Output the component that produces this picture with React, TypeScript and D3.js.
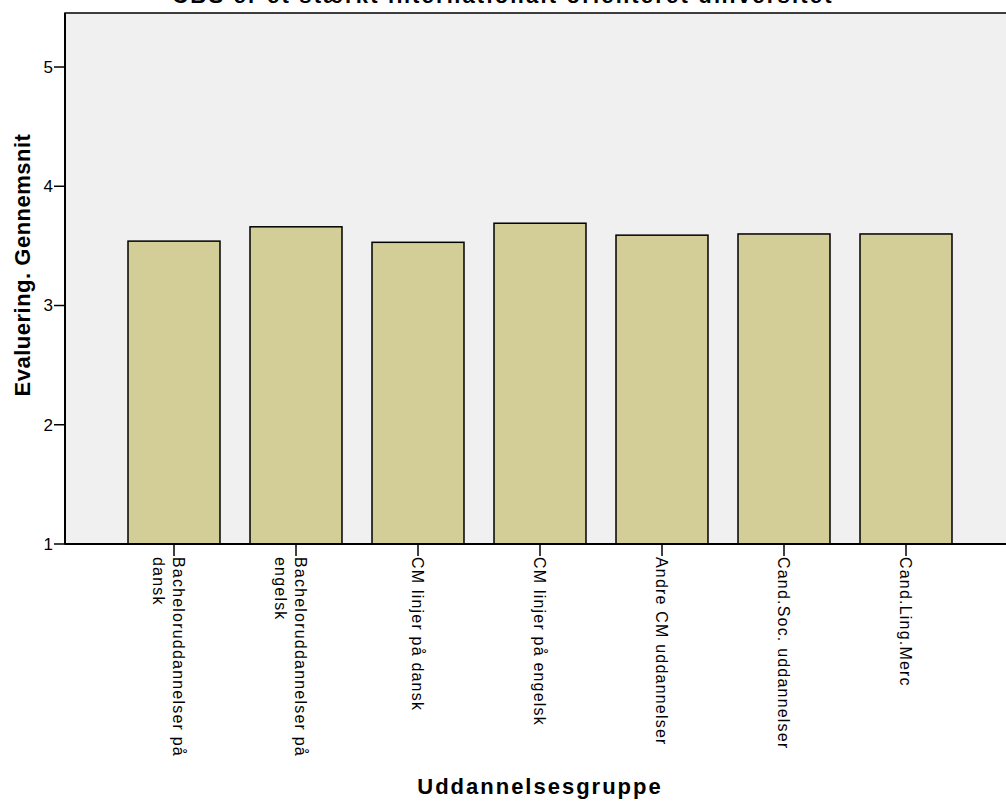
import React from "react";
import * as d3 from "d3";

const categories: string[][] = [
  ["Bacheloruddannelser på", "dansk"],
  ["Bacheloruddannelser på", "engelsk"],
  ["CM linjer på dansk"],
  ["CM linjer på engelsk"],
  ["Andre CM uddannelser"],
  ["Cand.Soc. uddannelser"],
  ["Cand.Ling.Merc"],
];
const values: number[] = [3.54, 3.66, 3.53, 3.69, 3.59, 3.6, 3.6];
const yTicks: number[] = [1, 2, 3, 4, 5];
const title = "CBS er et stærkt internationalt orienteret universitet";
const yTitle = "Evaluering. Gennemsnit";
const xTitle = "Uddannelsesgruppe";

const W = 1006;
const H = 804;
const plot = { left: 65, right: 1016, top: 13, bottom: 544 };
const font = "Arial, 'Liberation Sans', sans-serif";

export default function App() {
  const keys = categories.map((c) => c.join(" "));
  const x = d3
    .scaleBand<string>()
    .domain(keys)
    .range([113, 967])
    .paddingInner(0.246)
    .paddingOuter(0.123);
  const y = d3.scaleLinear().domain([1, 5.453]).range([plot.bottom, plot.top]);

  return (
    <svg
      width={W}
      height={H}
      style={{ position: "absolute", left: 0, top: 0, background: "#fff" }}
      fontFamily={font}
    >
      <rect
        x={plot.left}
        y={plot.top}
        width={plot.right - plot.left}
        height={plot.bottom - plot.top}
        fill="#f0f0f0"
        stroke="#000"
        strokeWidth={1.5}
      />
      <text
        x={503}
        y={3}
        textAnchor="middle"
        fontWeight="bold"
        fontSize={22}
        letterSpacing={2.2}
        fill="#000"
      >
        {title}
      </text>
      {values.map((v, i) => (
        <rect
          key={i}
          x={x(keys[i])!}
          y={y(v)}
          width={x.bandwidth()}
          height={plot.bottom - y(v)}
          fill="#d3ce97"
          stroke="#000"
          strokeWidth={1.5}
        />
      ))}
      <line x1={plot.left} x2={plot.left} y1={plot.top} y2={plot.bottom} stroke="#000" strokeWidth={2} />
      <line x1={plot.left} x2={plot.right} y1={plot.bottom} y2={plot.bottom} stroke="#000" strokeWidth={2} />
      {yTicks.map((t) => (
        <g key={t}>
          <line x1={54} x2={plot.left} y1={y(t)} y2={y(t)} stroke="#000" strokeWidth={1.5} />
          <text x={53} y={y(t)} dy="0.35em" textAnchor="end" fontSize={17} fill="#000">
            {t}
          </text>
        </g>
      ))}
      {keys.map((k, i) => {
        const cx = x(k)! + x.bandwidth() / 2;
        const lines = categories[i];
        const n = lines.length;
        return (
          <g key={k}>
            <line x1={cx} x2={cx} y1={plot.bottom} y2={556} stroke="#000" strokeWidth={1.5} />
            <g transform={`translate(${cx},557) rotate(90)`}>
              {lines.map((ln, j) => (
                <text
                  key={j}
                  x={0}
                  y={n > 1 ? -5 + 20 * j : 0}
                  dy="0.35em"
                  textAnchor="start"
                  fontSize={16}
                  letterSpacing={1.2}
                  fill="#000"
                >
                  {ln}
                </text>
              ))}
            </g>
          </g>
        );
      })}
      <text
        transform={`translate(30,265) rotate(-90)`}
        textAnchor="middle"
        fontWeight="bold"
        fontSize={22}
        letterSpacing={0.5}
        fill="#000"
      >
        {yTitle}
      </text>
      <text
        x={540}
        y={794}
        textAnchor="middle"
        fontWeight="bold"
        fontSize={22}
        letterSpacing={2}
        fill="#000"
      >
        {xTitle}
      </text>
    </svg>
  );
}
